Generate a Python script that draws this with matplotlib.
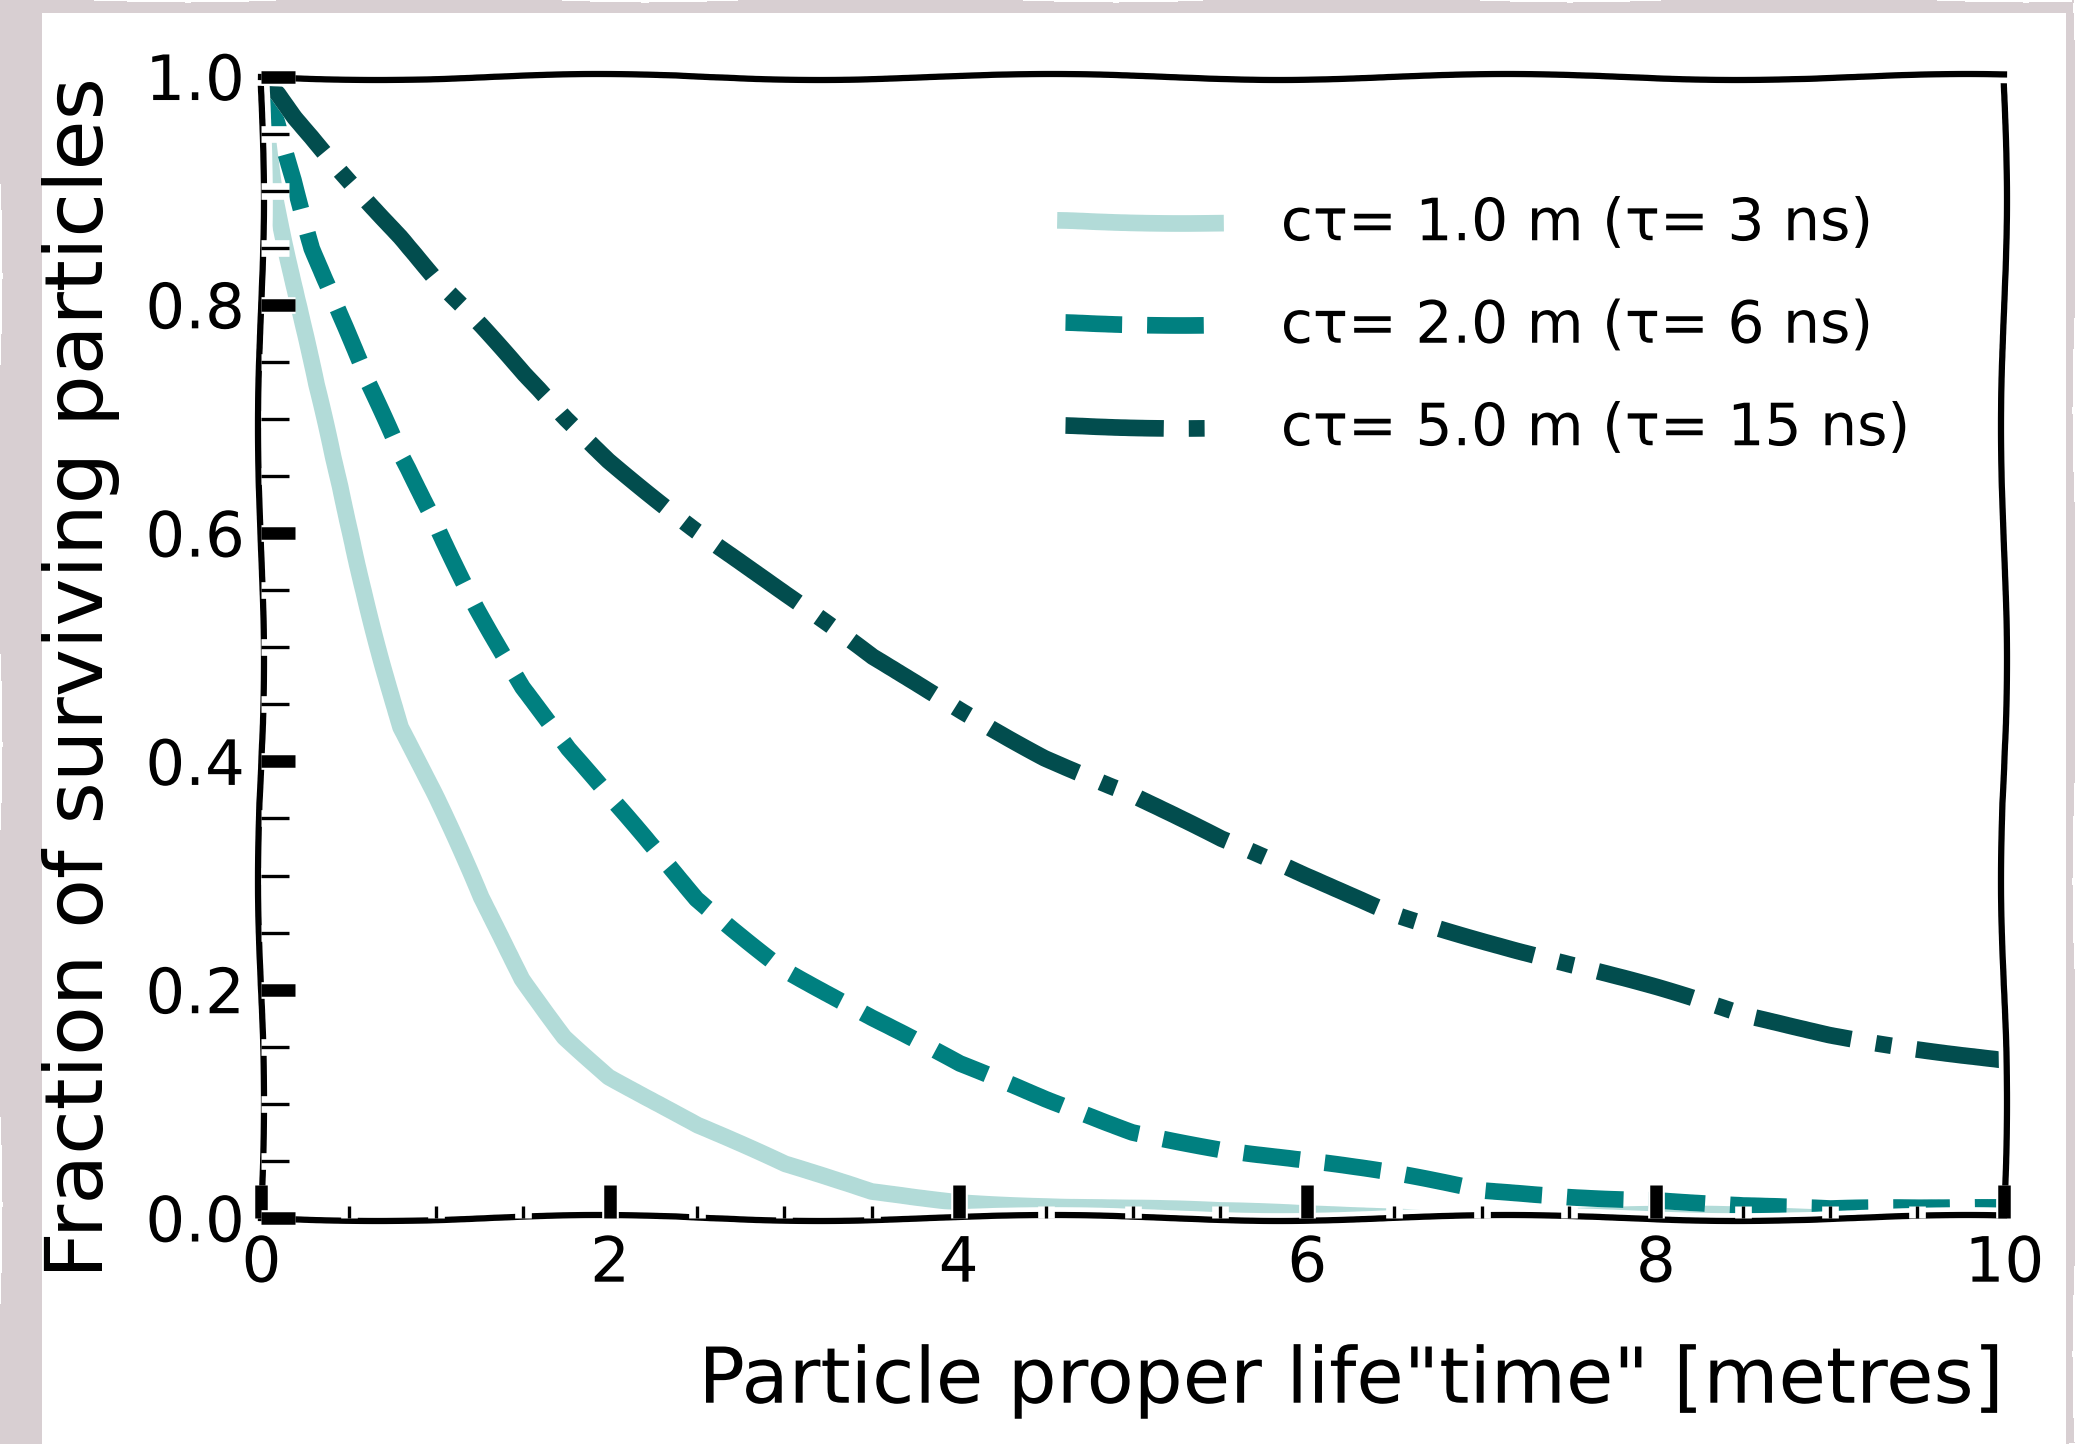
import matplotlib
matplotlib.use('Agg')
import matplotlib.pyplot as plt
from matplotlib.patches import Rectangle
from matplotlib.ticker import MultipleLocator, FormatStrFormatter

# proper decay length in metres
decay_length = [0, 0.1, 0.2, 0.3, 0.4, 0.6, 0.8, 1.0, 1.25, 1.5, 1.75, 2.0, 2.5, 3.0,
                3.5, 4.0, 4.5, 5.0, 5.5, 6.0, 6.5, 7.0, 7.5, 8.0, 8.5, 9.0, 9.5, 10.0]

# fraction of particles still alive, one list per lifetime
surv_1m = [1.0, 0.89, 0.81, 0.73, 0.665, 0.55, 0.43, 0.365, 0.28, 0.21, 0.16, 0.125, 0.08, 0.045,
           0.023, 0.016, 0.012, 0.008, 0.004, 0.003, 0.003, 0.002, 0.001, 0.001, 0.001, 0.001, 0.001, 0.0]
surv_2m = [1.0, 0.96, 0.91, 0.85, 0.81, 0.73, 0.665, 0.61, 0.535, 0.465, 0.41, 0.365, 0.28, 0.22,
           0.175, 0.133, 0.103, 0.077, 0.062, 0.05, 0.037, 0.023, 0.02, 0.018, 0.011, 0.006, 0.007, 0.01]
surv_5m = [1.0, 0.985, 0.965, 0.948, 0.93, 0.895, 0.86, 0.82, 0.78, 0.738, 0.70, 0.665, 0.603, 0.545,
           0.49, 0.447, 0.405, 0.37, 0.33, 0.298, 0.268, 0.245, 0.222, 0.2, 0.177, 0.162, 0.15, 0.138]

labels = ['c\u03c4= 1.0 m (\u03c4= 3 ns)',
          'c\u03c4= 2.0 m (\u03c4= 6 ns)',
          'c\u03c4= 5.0 m (\u03c4= 15 ns)']
colors = ['#b2dbd8', '#008080', '#024d4e']

with plt.xkcd(scale=3, length=500, randomness=2):
    plt.rcParams['font.family'] = ['DejaVu Sans']

    fig = plt.figure(figsize=(2075 / 300, 1444 / 300), dpi=300, facecolor='#d8cfd2')
    panel = Rectangle((42 / 2075, 0), (2066 - 42) / 2075, 1 - 13 / 1444,
                      transform=fig.transFigure, facecolor='white', edgecolor='none', zorder=-10)
    panel.set_sketch_params(None)
    panel.set_path_effects([])
    fig.patches.append(panel)

    ax = fig.add_axes([0.126, 0.1565, 0.84, 0.7905])

    ax.plot(decay_length, surv_1m, color=colors[0], lw=4, ls='-', label=labels[0])
    ax.plot(decay_length, surv_2m, color=colors[1], lw=4, ls=(0, (3.4, 1.5)), label=labels[1])
    ax.plot(decay_length, surv_5m, color=colors[2], lw=4, ls=(0, (5.9, 1.5, 0.95, 1.5)), label=labels[2])

    ax.set_xlim(0, 10)
    ax.set_ylim(0, 1.0)
    ax.xaxis.set_major_locator(MultipleLocator(2))
    ax.xaxis.set_minor_locator(MultipleLocator(0.5))
    ax.yaxis.set_major_locator(MultipleLocator(0.2))
    ax.yaxis.set_minor_locator(MultipleLocator(0.05))
    ax.yaxis.set_major_formatter(FormatStrFormatter('%.1f'))

    ax.tick_params(which='both', direction='in', top=False, right=False)
    ax.tick_params(which='major', length=8, width=3, labelsize=15, pad=4)
    ax.tick_params(axis='x', which='minor', length=3, width=0.8)
    ax.tick_params(axis='y', which='minor', length=6.5, width=0.8)

    # tick marks sit on top of the spines and curves, and stay straight
    ax.xaxis.set_zorder(3)
    ax.yaxis.set_zorder(3)
    for axis in (ax.xaxis, ax.yaxis):
        for tick in axis.get_major_ticks() + axis.get_minor_ticks():
            tick.tick1line.set_sketch_params(None)
            tick.tick2line.set_sketch_params(None)

    ax.set_xlabel('Particle proper life"time" [metres]', fontsize=18.5, loc='right')
    ax.set_ylabel('Fraction of surviving particles', fontsize=19.5, loc='top')
    ax.xaxis.set_label_coords(1.0, -0.111)
    ax.yaxis.set_label_coords(-0.081, 1.0)
    ax.yaxis.label.set_path_effects([])

    ax.legend(loc='upper left', bbox_to_anchor=(0.461, 0.896), frameon=False,
              fontsize=14, handlelength=2.57, handletextpad=1.13,
              labelspacing=0.78, borderpad=0, borderaxespad=0)

    fig.savefig('out.png', dpi=300, facecolor=fig.get_facecolor())
